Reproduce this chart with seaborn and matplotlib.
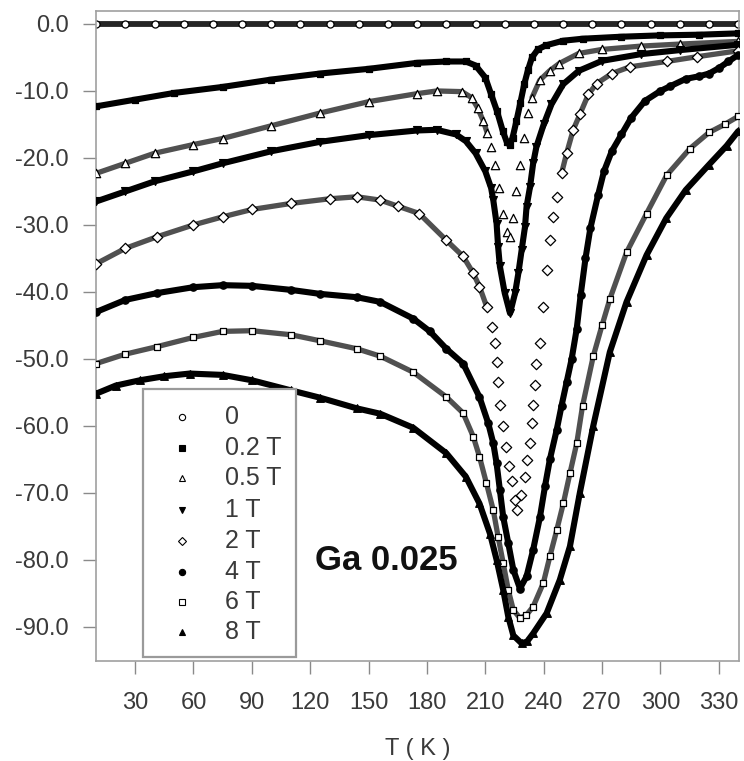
import matplotlib
matplotlib.use("Agg")
import matplotlib.pyplot as plt
import seaborn as sns
from matplotlib.patches import Rectangle

# ---------------- data ----------------
labels = ["0", "0.2 T", "0.5 T", "1 T", "2 T", "4 T", "6 T", "8 T"]

T_0 = [10, 25, 40, 55, 70, 85, 100, 115, 130, 145, 160, 175, 190, 205, 220, 235, 250, 265, 280, 295, 310, 325, 340]
M_0 = [0.0, 0.0, 0.0, 0.0, 0.0, 0.0, 0.0, 0.0, 0.0, 0.0, 0.0, 0.0, 0.0, 0.0, 0.0, 0.0, 0.0, 0.0, 0.0, 0.0, 0.0, 0.0, 0.0]

T_02 = [10, 30, 50, 75, 100, 125, 150, 175, 190, 200, 205, 210, 213, 216, 219, 221, 222.5, 224, 226, 228, 230, 232, 234, 237, 241, 250, 260, 280, 300, 320, 340]
M_02 = [-12.3, -11.3, -10.3, -9.4, -8.3, -7.4, -6.7, -5.8, -5.6, -5.6, -6.2, -8.0, -10.5, -13.0, -16.0, -17.6, -18.1, -17.0, -14.5, -11.8, -9.0, -6.8, -5.0, -3.8, -3.2, -2.5, -2.2, -1.9, -1.7, -1.6, -1.4]

T_05 = [10, 25, 40, 60, 75, 100, 125, 150, 175, 185, 198, 203, 206, 209, 211, 213, 215, 217, 219, 221, 222.5, 224, 226, 228, 230, 232, 234, 238, 243, 248, 258, 270, 290, 310, 340]
M_05 = [-22.3, -20.8, -19.3, -18.0, -17.1, -15.2, -13.3, -11.6, -10.4, -10.0, -10.1, -11.0, -12.5, -14.5, -16.3, -18.3, -21.0, -24.5, -28.3, -31.0, -31.8, -29.0, -25.0, -21.0, -17.0, -13.3, -11.0, -8.4, -7.0, -5.9, -4.4, -3.8, -3.3, -3.0, -2.6]

T_1 = [10, 25, 40, 60, 75, 100, 125, 150, 175, 185, 195, 200, 205, 210, 213, 214.1, 215.8, 216.6, 217.5, 220, 222.7, 225.3, 227, 228.7, 230.4, 231.2, 233, 234.6, 236.3, 240, 244, 250, 258, 270, 290, 310, 340]
M_1 = [-26.5, -25.0, -23.5, -22.0, -20.8, -19.0, -17.6, -16.6, -15.9, -15.8, -16.5, -17.5, -19.3, -22.0, -24.5, -26.3, -29.8, -33.3, -36.2, -40.2, -43.2, -40.2, -37.2, -33.7, -30.3, -27.3, -24.3, -20.8, -18.3, -15.0, -12.0, -9.0, -7.0, -5.5, -4.5, -3.9, -3.1]

T_2 = [10, 25, 41, 60, 75, 90, 110, 130, 144, 156, 165, 176, 190, 198.6, 203.8, 207, 210.7, 213.2, 215, 215.8, 216.6, 217.5, 219.2, 220.5, 222, 223.5, 225.2, 226.5, 228.6, 230.3, 231.5, 233, 233.8, 234.6, 235.3, 236.2, 238.1, 239.8, 241.5, 243.2, 245, 246.7, 249.2, 251.8, 255.2, 258.6, 263, 267.2, 275, 284.3, 303.2, 318.6, 340]
M_2 = [-35.8, -33.5, -31.8, -30.0, -28.8, -27.7, -26.8, -26.1, -25.8, -26.3, -27.2, -28.3, -32.3, -34.7, -37.2, -39.2, -42.2, -45.2, -47.7, -50.4, -53.4, -56.9, -60.1, -63.1, -66.0, -68.3, -71.1, -72.5, -70.4, -67.6, -65.1, -62.6, -59.6, -56.9, -53.9, -50.7, -47.7, -42.2, -36.7, -32.3, -28.8, -25.8, -22.3, -19.3, -15.8, -13.5, -10.5, -8.9, -7.4, -6.4, -5.6, -4.9, -4.0]

T_4 = [10, 25, 41, 60, 75, 90, 110, 125, 144, 156, 173, 181.5, 190, 198.6, 207, 211.5, 214.1, 215.8, 217.5, 219.2, 221.8, 224.4, 227.8, 231.2, 234.6, 238.1, 240.7, 243.2, 246.7, 249.2, 251.8, 254.4, 257, 259, 261.5, 264, 268, 271, 275, 280, 285, 292, 300, 305, 313, 320, 325, 330, 335, 340]
M_4 = [-43.0, -41.2, -40.2, -39.3, -39.0, -39.1, -39.7, -40.3, -40.8, -41.5, -44.0, -45.9, -48.5, -50.7, -55.7, -59.6, -62.6, -65.6, -69.6, -73.6, -77.5, -81.5, -84.3, -82.5, -78.5, -73.6, -69.0, -65.0, -60.6, -57.0, -53.5, -50.0, -45.5, -40.5, -35.0, -30.5, -25.5, -22.0, -19.0, -16.5, -14.0, -11.5, -10.0, -9.3, -8.2, -7.8, -7.4, -6.6, -5.6, -4.6]

T_6 = [10, 25, 41, 60, 75, 90, 110, 125, 144, 156, 173, 190, 198.6, 203.8, 207, 210.6, 214.1, 216.6, 219.2, 221.8, 224.4, 227.8, 231, 234.6, 239.8, 243.2, 246.7, 250.1, 253.5, 257, 260, 265.5, 270, 274.1, 282.6, 292.9, 303.2, 315.2, 325, 333, 340]
M_6 = [-50.7, -49.3, -48.2, -46.8, -45.9, -45.8, -46.4, -47.3, -48.5, -49.6, -52.0, -55.7, -58.1, -61.6, -64.6, -68.6, -72.6, -76.6, -80.5, -84.5, -87.5, -88.7, -88.3, -87.0, -83.5, -79.5, -75.6, -71.6, -67.1, -62.6, -57.0, -49.6, -45.0, -41.0, -34.1, -28.3, -22.6, -18.6, -16.2, -15.0, -13.8]

T_8 = [10, 20, 32.5, 45, 58, 75, 90, 110, 125, 144, 156, 173, 190, 200, 207, 212.4, 215.8, 219.2, 221.8, 224.4, 228.7, 231.5, 234.6, 241.5, 248.3, 253.5, 258.6, 265.5, 274, 282.6, 292.9, 303, 313, 325, 334, 340]
M_8 = [-55.2, -54.0, -53.2, -52.6, -52.2, -52.4, -53.2, -54.7, -55.8, -57.4, -58.2, -60.3, -64.1, -67.6, -71.6, -76.1, -80.0, -84.5, -88.5, -91.3, -92.5, -92.2, -91.0, -88.0, -83.0, -78.0, -70.0, -60.0, -49.0, -41.5, -34.5, -29.0, -24.8, -21.0, -18.2, -16.0]

x_ticks = [30, 60, 90, 120, 150, 180, 210, 240, 270, 300, 330]
y_ticks = [0, -10, -20, -30, -40, -50, -60, -70, -80, -90]
y_tick_labels = ["0.0", "-10.0", "-20.0", "-30.0", "-40.0", "-50.0", "-60.0", "-70.0", "-80.0", "-90.0"]
x_label = "T ( K )"
annotation = "Ga 0.025"

T_all = [T_0, T_02, T_05, T_1, T_2, T_4, T_6, T_8]
M_all = [M_0, M_02, M_05, M_1, M_2, M_4, M_6, M_8]

# ---------------- style ----------------
markers = ["o", "s", "^", "v", "D", "o", "s", "^"]
filled = [False, True, False, True, False, True, False, True]
msizes = [26, 24, 36, 32, 28, 28, 24, 30]
# temperature window where the sweep points appear as separate symbols (no band)
gaps = [None, None, (212.5, 233.5), None, (211.5, 247.5), None, None, None]

sns.set_style("white")
plt.rcParams["font.family"] = ["Liberation Sans", "DejaVu Sans"]
plt.rcParams["axes.unicode_minus"] = False

fig = plt.figure(figsize=(7.44, 7.61), dpi=100)
ax = fig.add_axes([0.12903, 0.13141, 0.86425, 0.85414])

for i, (T, M) in enumerate(zip(T_all, M_all)):
    if filled[i]:
        lc, lw, fc = "black", 4.4, "black"
    else:
        lc, lw, fc = "#505050", 3.8, "white"
    if i == 0:
        lc, lw = "#262626", 4.2
    if gaps[i] is None:
        parts = [(T, M)]
    else:
        lo, hi = gaps[i]
        parts = [([t for t in T if t <= lo], [m for t, m in zip(T, M) if t <= lo]),
                 ([t for t in T if t >= hi], [m for t, m in zip(T, M) if t >= hi])]
    for tp, mp in parts:
        sns.lineplot(x=tp, y=mp, ax=ax, sort=False, estimator=None, color=lc,
                     linewidth=lw, zorder=2 + i, legend=False)
    sns.scatterplot(x=T, y=M, ax=ax, marker=markers[i], s=msizes[i],
                    facecolor=fc, edgecolor="black", linewidth=0.9,
                    zorder=2.5 + i, legend=False)

ax.set_xlim(9.9, 340.4)
ax.set_ylim(-95.12, 1.94)
ax.set_xticks(x_ticks)
ax.set_xticklabels([str(v) for v in x_ticks])
ax.set_yticks(y_ticks)
ax.set_yticklabels(y_tick_labels)
ax.tick_params(axis="both", which="major", bottom=True, left=True, top=False, right=False,
               direction="out", length=9.5, width=1.0, color="#8a8a8a",
               labelsize=17, labelcolor="#3a3a3a")
ax.tick_params(axis="x", pad=13)
ax.tick_params(axis="y", pad=10)
for s in ax.spines.values():
    s.set_color("#a0a0a0")
    s.set_linewidth(1.2)

ax.set_xlabel(x_label, fontsize=17, color="#3a3a3a", labelpad=17)
ax.set_ylabel("")

ax.text(0.3406, 0.14, annotation, transform=ax.transAxes, fontsize=25,
        fontweight="bold", ha="left", va="baseline", color="#111111", zorder=20)

# ---------------- legend box ----------------
ax.add_patch(Rectangle((0.0726, 0.0062), 0.2384, 0.4123, transform=ax.transAxes,
                       facecolor="white", edgecolor="#9a9a9a", linewidth=1.6, zorder=30))
row_y = [0.3758, 0.3277, 0.2815, 0.2323, 0.1846, 0.1374, 0.0908, 0.0451]
for i, lab in enumerate(labels):
    ax.plot([0.1333], [row_y[i]], transform=ax.transAxes, linestyle="none",
            marker=markers[i], markersize=4.5 if markers[i] != "D" else 3.8,
            markerfacecolor="black" if filled[i] else "white",
            markeredgecolor="black", markeredgewidth=0.8, zorder=31)
    ax.text(0.2006, row_y[i], lab, transform=ax.transAxes, fontsize=18,
            color="#3a3a3a", ha="left", va="center", zorder=31)

fig.savefig("out.png", dpi=100)
